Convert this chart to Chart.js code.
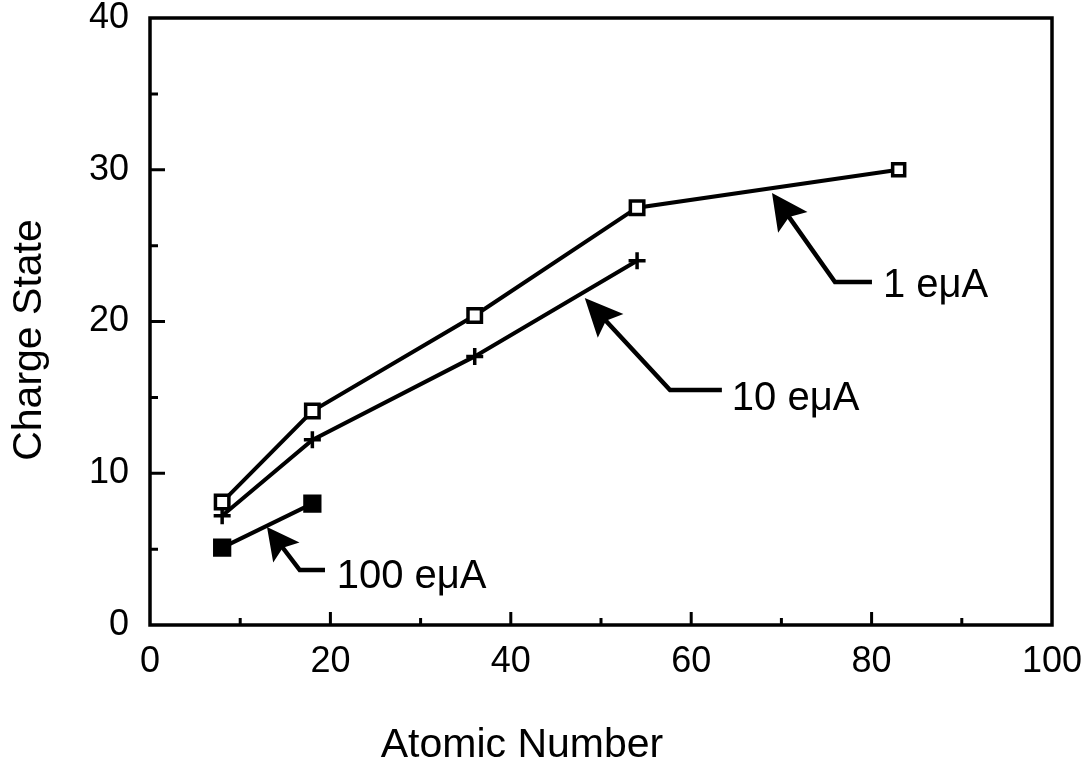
<!DOCTYPE html>
<html><head><meta charset="utf-8">
<script src="https://cdn.jsdelivr.net/npm/chart.js@4.4.1/dist/chart.umd.min.js"></script>
<style>html,body{margin:0;padding:0;background:#fff}#wrap{width:1090px;height:771px}</style>
</head><body><div id="wrap"><canvas id="c" width="1090" height="771"></canvas></div>
<script>
// ---- data ----
const atomicNumbers1 = [8, 18, 36, 54, 83];
const charge1uA = [8.1, 14.1, 20.4, 27.5, 30.0];
const atomicNumbers10 = [8, 18, 36, 54];
const charge10uA = [7.2, 12.2, 17.7, 24.0];
const atomicNumbers100 = [8, 18];
const charge100uA = [5.1, 8.0];
const seriesLabels = ['1 eμA', '10 eμA', '100 eμA'];
const xTitle = 'Atomic Number';
const yTitle = 'Charge State';
const xRange = [0, 100];
const yRange = [0, 40];

// annotation arrows (in data units): tip, elbow, end of leader, label position
const annoTips   = [[68.96, 28.47], [48.2, 21.55], [12.97, 6.46]];
const annoElbows = [[75.94, 22.6],  [57.65, 15.49], [16.6, 3.62]];
const annoEnds   = [80.04, 63.4, 19.4];
const annoText   = [[81.26, 21.6], [64.5, 14.17], [20.7, 2.44]];

const FONT = '"Liberation Sans", Arial, Helvetica, sans-serif';
const toXY = (xs, ys) => xs.map((x, i) => ({x: x, y: ys[i]}));

const framePlugin = {
  id: 'frame',
  beforeDatasetsDraw(chart) {
    const ctx = chart.ctx, a = chart.chartArea;
    const xs = chart.scales.x, ys = chart.scales.y;
    ctx.save();
    ctx.strokeStyle = '#000';
    ctx.lineWidth = 3.5;
    ctx.strokeRect(a.left, a.top, a.right - a.left, a.bottom - a.top);
    ctx.lineWidth = 3;
    ctx.beginPath();
    for (let v = xRange[0] + 10; v < xRange[1]; v += 10) {
      const px = xs.getPixelForValue(v);
      const len = (v % 20 === 0) ? 13 : 7;
      ctx.moveTo(px, a.bottom); ctx.lineTo(px, a.bottom - len);
    }
    for (let v = yRange[0] + 5; v < yRange[1]; v += 5) {
      const py = ys.getPixelForValue(v);
      const len = (v % 10 === 0) ? 15 : 8;
      ctx.moveTo(a.left, py); ctx.lineTo(a.left + len, py);
    }
    ctx.stroke();
    ctx.restore();
  },
  afterDraw(chart) {
    const ctx = chart.ctx;
    const xs = chart.scales.x, ys = chart.scales.y;
    ctx.save();
    ctx.fillStyle = '#000';
    ctx.strokeStyle = '#000';
    // axis titles
    ctx.font = '41px ' + FONT;
    ctx.textAlign = 'center';
    ctx.textBaseline = 'alphabetic';
    ctx.fillText(xTitle, 522, 757);
    ctx.save();
    ctx.translate(30, 340);
    ctx.rotate(-Math.PI / 2);
    ctx.textBaseline = 'middle';
    ctx.fillText(yTitle, 0, 0);
    ctx.restore();
    // annotation arrows
    const heads = [[36, 18], [38, 17.5], [32, 16.5]];
    for (let i = 0; i < seriesLabels.length; i++) {
      const tip = {x: xs.getPixelForValue(annoTips[i][0]), y: ys.getPixelForValue(annoTips[i][1])};
      const el = {x: xs.getPixelForValue(annoElbows[i][0]), y: ys.getPixelForValue(annoElbows[i][1])};
      const end = {x: xs.getPixelForValue(annoEnds[i]), y: el.y};
      const hl = heads[i][0], hw = heads[i][1];
      const dx = el.x - tip.x, dy = el.y - tip.y, L = Math.hypot(dx, dy);
      const ux = dx / L, uy = dy / L, px = -uy, py = ux;
      ctx.lineWidth = 4.5;
      ctx.lineJoin = 'miter';
      ctx.beginPath();
      ctx.moveTo(tip.x + ux * hl * 0.6, tip.y + uy * hl * 0.6);
      ctx.lineTo(el.x, el.y);
      ctx.lineTo(end.x, end.y);
      ctx.stroke();
      const bx = tip.x + ux * hl, by = tip.y + uy * hl;
      ctx.beginPath();
      ctx.moveTo(tip.x, tip.y);
      ctx.lineTo(bx + px * hw, by + py * hw);
      ctx.lineTo(tip.x + ux * hl * 0.82, tip.y + uy * hl * 0.82);
      ctx.lineTo(bx - px * hw, by - py * hw);
      ctx.closePath();
      ctx.fill();
      ctx.font = '40px ' + FONT;
      ctx.textAlign = 'left';
      ctx.textBaseline = 'alphabetic';
      ctx.fillText(seriesLabels[i], xs.getPixelForValue(annoText[i][0]), ys.getPixelForValue(annoText[i][1]));
    }
    ctx.restore();
  }
};

new Chart(document.getElementById('c'), {
  type: 'scatter',
  data: {
    datasets: [
      {
        label: seriesLabels[0],
        data: toXY(atomicNumbers1, charge1uA),
        showLine: true,
        borderColor: '#000', borderWidth: 4,
        pointStyle: 'rect',
        pointRadius: [9.5, 9.5, 9.5, 9.5, 8.5],
        pointBackgroundColor: '#fff', pointBorderColor: '#000', pointBorderWidth: 3.5,
        clip: false
      },
      {
        label: seriesLabels[1],
        data: toXY(atomicNumbers10, charge10uA),
        showLine: true,
        borderColor: '#000', borderWidth: 4,
        pointStyle: 'cross',
        pointRadius: 8.5,
        pointBorderColor: '#000', pointBorderWidth: 3.5,
        clip: false
      },
      {
        label: seriesLabels[2],
        data: toXY(atomicNumbers100, charge100uA),
        showLine: true,
        borderColor: '#000', borderWidth: 4,
        pointStyle: 'rect',
        pointRadius: 11.5,
        pointBackgroundColor: '#000', pointBorderColor: '#000', pointBorderWidth: 2,
        clip: false
      }
    ]
  },
  options: {
    responsive: false,
    animation: false,
    layout: { padding: { left: 0, top: 18, right: 38, bottom: 0 } },
    plugins: { legend: { display: false }, tooltip: { enabled: false }, title: { display: false } },
    scales: {
      x: {
        type: 'linear', min: xRange[0], max: xRange[1],
        grid: { display: false, drawTicks: false },
        border: { display: false },
        ticks: { stepSize: 20, padding: 15, color: '#000', font: { family: FONT, size: 36 }, maxRotation: 0 },
        afterFit(scale) { scale.height = 146; scale.paddingLeft = 0; scale.paddingRight = 0; }
      },
      y: {
        type: 'linear', min: yRange[0], max: yRange[1],
        grid: { display: false, drawTicks: false },
        border: { display: false },
        ticks: { stepSize: 10, padding: 21, color: '#000', font: { family: FONT, size: 36 } },
        afterFit(scale) { scale.width = 150; scale.paddingTop = 0; scale.paddingBottom = 0; }
      }
    }
  },
  plugins: [framePlugin]
});
</script>
</body></html>
